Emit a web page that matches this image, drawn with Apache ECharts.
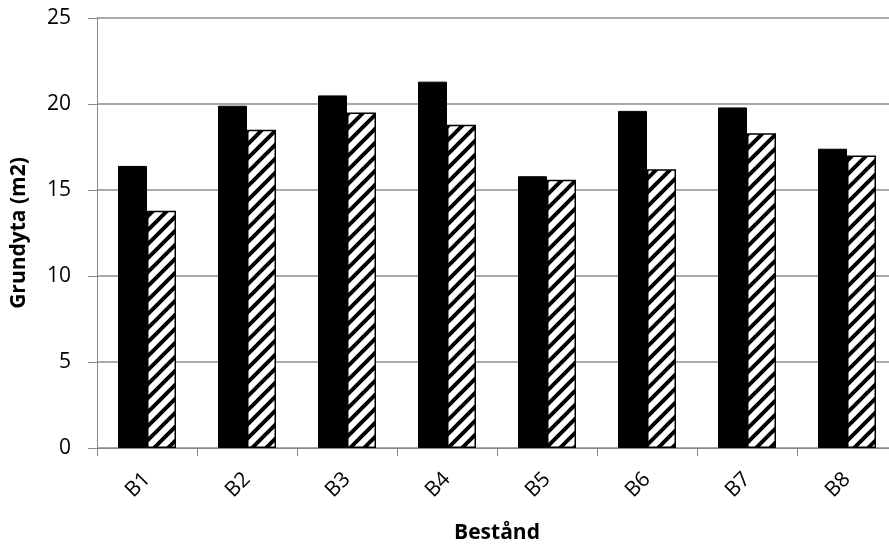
<!DOCTYPE html>
<html>
<head>
<meta charset="utf-8">
<script src="https://cdn.jsdelivr.net/npm/echarts@6/dist/echarts.min.js"></script>
<style>
  html, body { margin: 0; padding: 0; background: #fff; }
  #chart { width: 889px; height: 546px; }
</style>
</head>
<body>
<div id="chart"></div>
<script>
const categories = ['B1', 'B2', 'B3', 'B4', 'B5', 'B6', 'B7', 'B8'];
const solidValues = [16.4, 19.9, 20.5, 21.3, 15.8, 19.6, 19.8, 17.4];
const hatchedValues = [13.8, 18.5, 19.5, 18.8, 15.6, 16.2, 18.3, 17.0];
const yTicks = [0, 5, 10, 15, 20, 25];

// diagonal stripes for the second series
const makeHatch = () => {
  const s = 14;
  const c = document.createElement('canvas');
  c.width = s; c.height = s;
  const g = c.getContext('2d');
  g.fillStyle = '#fff';
  g.fillRect(0, 0, s, s);
  g.strokeStyle = '#000';
  g.lineWidth = 4;
  g.beginPath();
  g.moveTo(-2, s + 2); g.lineTo(s + 2, -2);
  g.moveTo(-2 - s, s + 2); g.lineTo(2, -2);
  g.moveTo(s - 2, s + 2); g.lineTo(2 * s + 2, -2);
  g.stroke();
  return c;
};

const font = '"Open Sans", sans-serif';
const chart = echarts.init(document.getElementById('chart'));

chart.setOption({
  animation: false,
  grid: { left: 97, top: 18, right: -8, bottom: 98, outerBoundsMode: 'none', containLabel: false },
  xAxis: {
    type: 'category',
    data: categories,
    name: 'Bestånd',
    nameLocation: 'middle',
    nameGap: 75,
    nameTextStyle: { fontFamily: font, fontWeight: 'bold', fontSize: 21, color: '#000' },
    axisLine: { lineStyle: { color: '#868686', width: 1 } },
    axisTick: { show: true, length: 8, lineStyle: { color: '#868686' } },
    axisLabel: { rotate: 45, margin: 28, fontFamily: font, fontSize: 21, color: '#000' }
  },
  yAxis: {
    type: 'value',
    min: yTicks[0],
    max: yTicks[yTicks.length - 1],
    interval: 5,
    name: 'Grundyta (m2)',
    nameLocation: 'middle',
    nameGap: 67,
    nameTextStyle: { fontFamily: font, fontWeight: 'bold', fontSize: 21, color: '#000' },
    axisLine: { show: true, lineStyle: { color: '#868686', width: 1 } },
    axisTick: { show: true, length: 9, lineStyle: { color: '#868686' } },
    axisLabel: { margin: 26, fontFamily: font, fontSize: 21, color: '#000' },
    splitLine: { lineStyle: { color: '#8c8c8c', width: 1.5 } }
  },
  series: [
    {
      type: 'bar',
      data: solidValues,
      barWidth: 29,
      barGap: '0%',
      itemStyle: { color: '#000', borderColor: '#000', borderWidth: 1 }
    },
    {
      type: 'bar',
      data: hatchedValues,
      barWidth: 29,
      itemStyle: {
        color: { image: makeHatch(), repeat: 'repeat' },
        borderColor: '#000',
        borderWidth: 1.5
      }
    }
  ]
});
</script>
</body>
</html>
